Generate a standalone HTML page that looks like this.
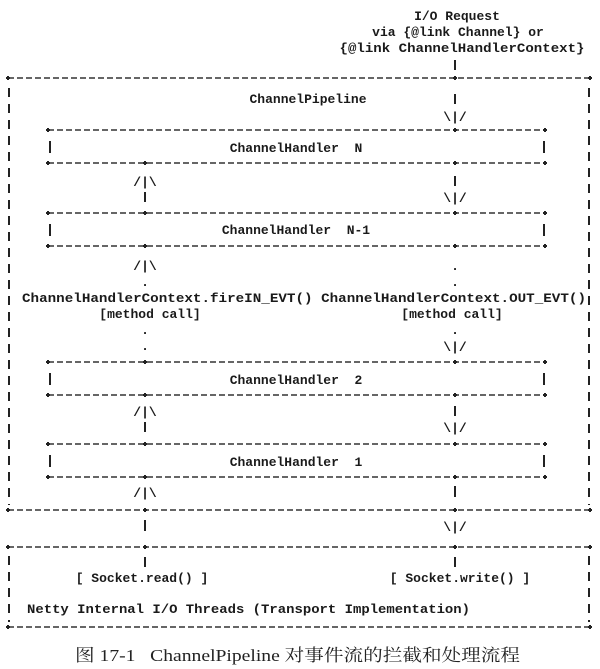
<!DOCTYPE html>
<html><head><meta charset="utf-8"><style>
html,body{margin:0;padding:0;background:#fff;}
svg{display:block}
.t{font-family:"Liberation Mono",monospace;font-weight:bold;font-size:13px;fill:#1a1a1a}
.c{font-family:"Liberation Serif","Noto Serif CJK SC",serif;font-size:17px;fill:#222}
.h{stroke:#333;stroke-width:1.4;stroke-dasharray:6 3;fill:none}
.v{stroke:#222;stroke-width:2;stroke-dasharray:9 7;fill:none}
.s{stroke:#222;stroke-width:2;fill:none}
.p{fill:#222}
</style></head><body>
<svg width="600" height="669" viewBox="0 0 600 669" xmlns="http://www.w3.org/2000/svg">
<defs><g id="pl"><rect x="-2" y="-1" width="4" height="2" class="p"/><rect x="-1" y="-2" width="2" height="4" class="p"/></g></defs>
<text class="t" x="457" y="20" text-anchor="middle">I/O Request</text>
<text class="t" x="458" y="36" text-anchor="middle">via {@link Channel} or</text>
<text class="t" x="462" y="52" text-anchor="middle" textLength="245" lengthAdjust="spacingAndGlyphs">{@link ChannelHandlerContext}</text>
<line class="s" x1="455" y1="60" x2="455" y2="70"/>

<line class="h" x1="8" y1="78" x2="590" y2="78"/>
<line class="h" x1="8" y1="510" x2="590" y2="510"/>
<use href="#pl" x="8" y="78"/><use href="#pl" x="455" y="78"/><use href="#pl" x="590" y="78"/>
<use href="#pl" x="8" y="510"/><use href="#pl" x="145" y="510"/><use href="#pl" x="455" y="510"/><use href="#pl" x="590" y="510"/>
<line class="v" x1="9" y1="88" x2="9" y2="505"/>
<line class="v" x1="589" y1="88" x2="589" y2="505"/>
<text class="t" x="308" y="103" text-anchor="middle">ChannelPipeline</text>
<line class="s" x1="455" y1="94" x2="455" y2="104"/>
<text class="t" x="455" y="121" text-anchor="middle">\|/</text>

<g>
<line class="h" x1="48" y1="130" x2="545" y2="130"/>
<line class="h" x1="48" y1="163" x2="545" y2="163"/>
<use href="#pl" x="48" y="130"/><use href="#pl" x="455" y="130"/><use href="#pl" x="545" y="130"/>
<use href="#pl" x="48" y="163"/><use href="#pl" x="145" y="163"/><use href="#pl" x="455" y="163"/><use href="#pl" x="545" y="163"/>
<line class="s" x1="50" y1="141" x2="50" y2="153"/><line class="s" x1="544" y1="141" x2="544" y2="153"/>
<text class="t" x="296" y="152" text-anchor="middle" xml:space="preserve">ChannelHandler  N</text>
</g>
<text class="t" x="145" y="186" text-anchor="middle">/|\</text>
<line class="s" x1="145" y1="192" x2="145" y2="202"/>
<line class="s" x1="455" y1="176" x2="455" y2="186"/>
<text class="t" x="455" y="202" text-anchor="middle">\|/</text>

<g>
<line class="h" x1="48" y1="213" x2="545" y2="213"/>
<line class="h" x1="48" y1="246" x2="545" y2="246"/>
<use href="#pl" x="48" y="213"/><use href="#pl" x="145" y="213"/><use href="#pl" x="455" y="213"/><use href="#pl" x="545" y="213"/>
<use href="#pl" x="48" y="246"/><use href="#pl" x="145" y="246"/><use href="#pl" x="455" y="246"/><use href="#pl" x="545" y="246"/>
<line class="s" x1="50" y1="224" x2="50" y2="236"/><line class="s" x1="544" y1="224" x2="544" y2="236"/>
<text class="t" x="296" y="234" text-anchor="middle" xml:space="preserve">ChannelHandler  N-1</text>
</g>
<text class="t" x="145" y="270" text-anchor="middle">/|\</text>
<text class="t" x="455" y="270" text-anchor="middle">.</text>
<text class="t" x="145" y="286" text-anchor="middle">.</text>
<text class="t" x="455" y="286" text-anchor="middle">.</text>
<text class="t" x="22" y="302" textLength="564" lengthAdjust="spacingAndGlyphs">ChannelHandlerContext.fireIN_EVT() ChannelHandlerContext.OUT_EVT()</text>
<text class="t" x="150" y="318" text-anchor="middle">[method call]</text>
<text class="t" x="452" y="318" text-anchor="middle">[method call]</text>
<text class="t" x="145" y="334" text-anchor="middle">.</text>
<text class="t" x="455" y="334" text-anchor="middle">.</text>
<text class="t" x="145" y="350" text-anchor="middle">.</text>
<text class="t" x="455" y="351" text-anchor="middle">\|/</text>

<g>
<line class="h" x1="48" y1="362" x2="545" y2="362"/>
<line class="h" x1="48" y1="395" x2="545" y2="395"/>
<use href="#pl" x="48" y="362"/><use href="#pl" x="145" y="362"/><use href="#pl" x="455" y="362"/><use href="#pl" x="545" y="362"/>
<use href="#pl" x="48" y="395"/><use href="#pl" x="145" y="395"/><use href="#pl" x="455" y="395"/><use href="#pl" x="545" y="395"/>
<line class="s" x1="50" y1="373" x2="50" y2="385"/><line class="s" x1="544" y1="373" x2="544" y2="385"/>
<text class="t" x="296" y="384" text-anchor="middle" xml:space="preserve">ChannelHandler  2</text>
</g>
<text class="t" x="145" y="416" text-anchor="middle">/|\</text>
<line class="s" x1="145" y1="422" x2="145" y2="432"/>
<line class="s" x1="455" y1="406" x2="455" y2="416"/>
<text class="t" x="455" y="432" text-anchor="middle">\|/</text>

<g>
<line class="h" x1="48" y1="444" x2="545" y2="444"/>
<line class="h" x1="48" y1="477" x2="545" y2="477"/>
<use href="#pl" x="48" y="444"/><use href="#pl" x="145" y="444"/><use href="#pl" x="455" y="444"/><use href="#pl" x="545" y="444"/>
<use href="#pl" x="48" y="477"/><use href="#pl" x="145" y="477"/><use href="#pl" x="455" y="477"/><use href="#pl" x="545" y="477"/>
<line class="s" x1="50" y1="455" x2="50" y2="467"/><line class="s" x1="544" y1="455" x2="544" y2="467"/>
<text class="t" x="296" y="466" text-anchor="middle" xml:space="preserve">ChannelHandler  1</text>
</g>
<text class="t" x="145" y="497" text-anchor="middle">/|\</text>
<line class="s" x1="455" y1="486" x2="455" y2="497"/>

<line class="s" x1="145" y1="520" x2="145" y2="531"/>
<text class="t" x="455" y="531" text-anchor="middle">\|/</text>

<line class="h" x1="8" y1="547" x2="590" y2="547"/>
<line class="h" x1="8" y1="627" x2="590" y2="627"/>
<use href="#pl" x="8" y="547"/><use href="#pl" x="145" y="547"/><use href="#pl" x="455" y="547"/><use href="#pl" x="590" y="547"/>
<use href="#pl" x="8" y="627"/><use href="#pl" x="590" y="627"/>
<line class="v" x1="9" y1="556" x2="9" y2="622"/>
<line class="v" x1="589" y1="556" x2="589" y2="622"/>
<line class="s" x1="145" y1="557" x2="145" y2="567"/>
<line class="s" x1="455" y1="557" x2="455" y2="567"/>
<text class="t" x="142" y="582" text-anchor="middle">[ Socket.read() ]</text>
<text class="t" x="460" y="582" text-anchor="middle">[ Socket.write() ]</text>
<text class="t" x="27" y="613" textLength="443" lengthAdjust="spacingAndGlyphs">Netty Internal I/O Threads (Transport Implementation)</text>

<text class="c" x="75" y="661" textLength="445" lengthAdjust="spacingAndGlyphs" xml:space="preserve">图 17-1   ChannelPipeline 对事件流的拦截和处理流程</text>
</svg>
</body></html>
